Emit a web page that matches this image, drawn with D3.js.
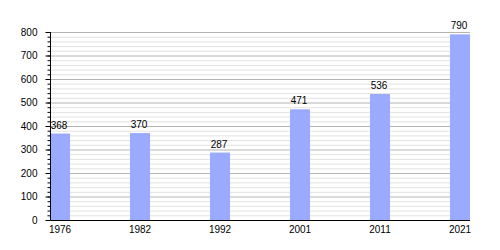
<!DOCTYPE html>
<html><head><meta charset="utf-8">
<script src="https://cdn.jsdelivr.net/npm/d3@7"></script>
<style>body{margin:0;background:#fff}svg{display:block}text{font-family:"Liberation Sans",Arial,sans-serif}</style>
</head><body>
<svg id="c" width="500" height="250"></svg>
<script>
const years = ["1976","1982","1992","2001","2011","2021"];
const population = [368, 370, 287, 471, 536, 790];
const majorTicks = [0,100,200,300,400,500,600,700,800];

(function () {
const svg = d3.select("#c");
const mLeft = 50, mRight = 470, mTop = 32, mBottom = 220;
const x = d3.scaleBand().domain(years).range([mLeft, mRight]).paddingInner(0.75).paddingOuter(0);
const y = d3.scaleLinear().domain([0, 800]).range([mBottom, mTop]);
const minorTicks = d3.range(0, 801, 20);

// grid
svg.append("g").selectAll("line").data(minorTicks.filter(v => v % 100 !== 0)).join("line")
  .attr("x1", mLeft).attr("x2", mRight).attr("y1", d => y(d) + 0.5).attr("y2", d => y(d) + 0.5)
  .attr("stroke", "#e2e2e2").attr("stroke-width", 1);
svg.append("g").selectAll("line").data(majorTicks.filter(v => v > 0)).join("line")
  .attr("x1", mLeft).attr("x2", mRight).attr("y1", d => y(d) + 0.5).attr("y2", d => y(d) + 0.5)
  .attr("stroke", "#b4b4b4").attr("stroke-width", 1);

// bars
svg.append("g").selectAll("rect").data(years).join("rect")
  .attr("x", d => x(d)).attr("width", x.bandwidth())
  .attr("y", (d, i) => y(population[i])).attr("height", (d, i) => mBottom - y(population[i]))
  .attr("fill", "#99aaff");

// value labels
svg.append("g").selectAll("text").data(years).join("text")
  .attr("x", d => x(d) + x.bandwidth() / 2 - 1)
  .attr("y", (d, i) => y(population[i]) - 5)
  .attr("text-anchor", "middle").attr("font-size", 10).attr("fill", "#000")
  .text((d, i) => population[i]);

// y axis
const yAxisMinor = d3.axisLeft(y).tickValues(minorTicks).tickSize(3).tickFormat("");
svg.append("g").attr("transform", `translate(${mLeft + 0.5},0)`).call(yAxisMinor)
  .call(g => g.select(".domain").remove())
  .call(g => g.selectAll("line").attr("stroke", "#000"));
const yAxis = d3.axisLeft(y).tickValues(majorTicks).tickSize(5).tickPadding(8);
svg.append("g").attr("transform", `translate(${mLeft + 0.5},0)`).call(yAxis)
  .call(g => g.select(".domain").attr("stroke", "#000").attr("d", `M0,${mTop}V${mBottom}`))
  .call(g => g.selectAll("line").attr("stroke", "#000"))
  .call(g => g.selectAll("text").attr("font-size", 10).attr("fill", "#000").attr("font-family", '"Liberation Sans",Arial,sans-serif'));

// x axis
const xAxis = d3.axisBottom(x).tickSize(0).tickPadding(5);
svg.append("g").attr("transform", `translate(0,${mBottom + 0.5})`).call(xAxis)
  .call(g => g.select(".domain").attr("stroke", "#000").attr("d", `M${mLeft},0H${mRight}`))
  .call(g => g.selectAll("text").attr("font-size", 10).attr("fill", "#000").attr("font-family", '"Liberation Sans",Arial,sans-serif'));
})();
</script>
</body></html>
